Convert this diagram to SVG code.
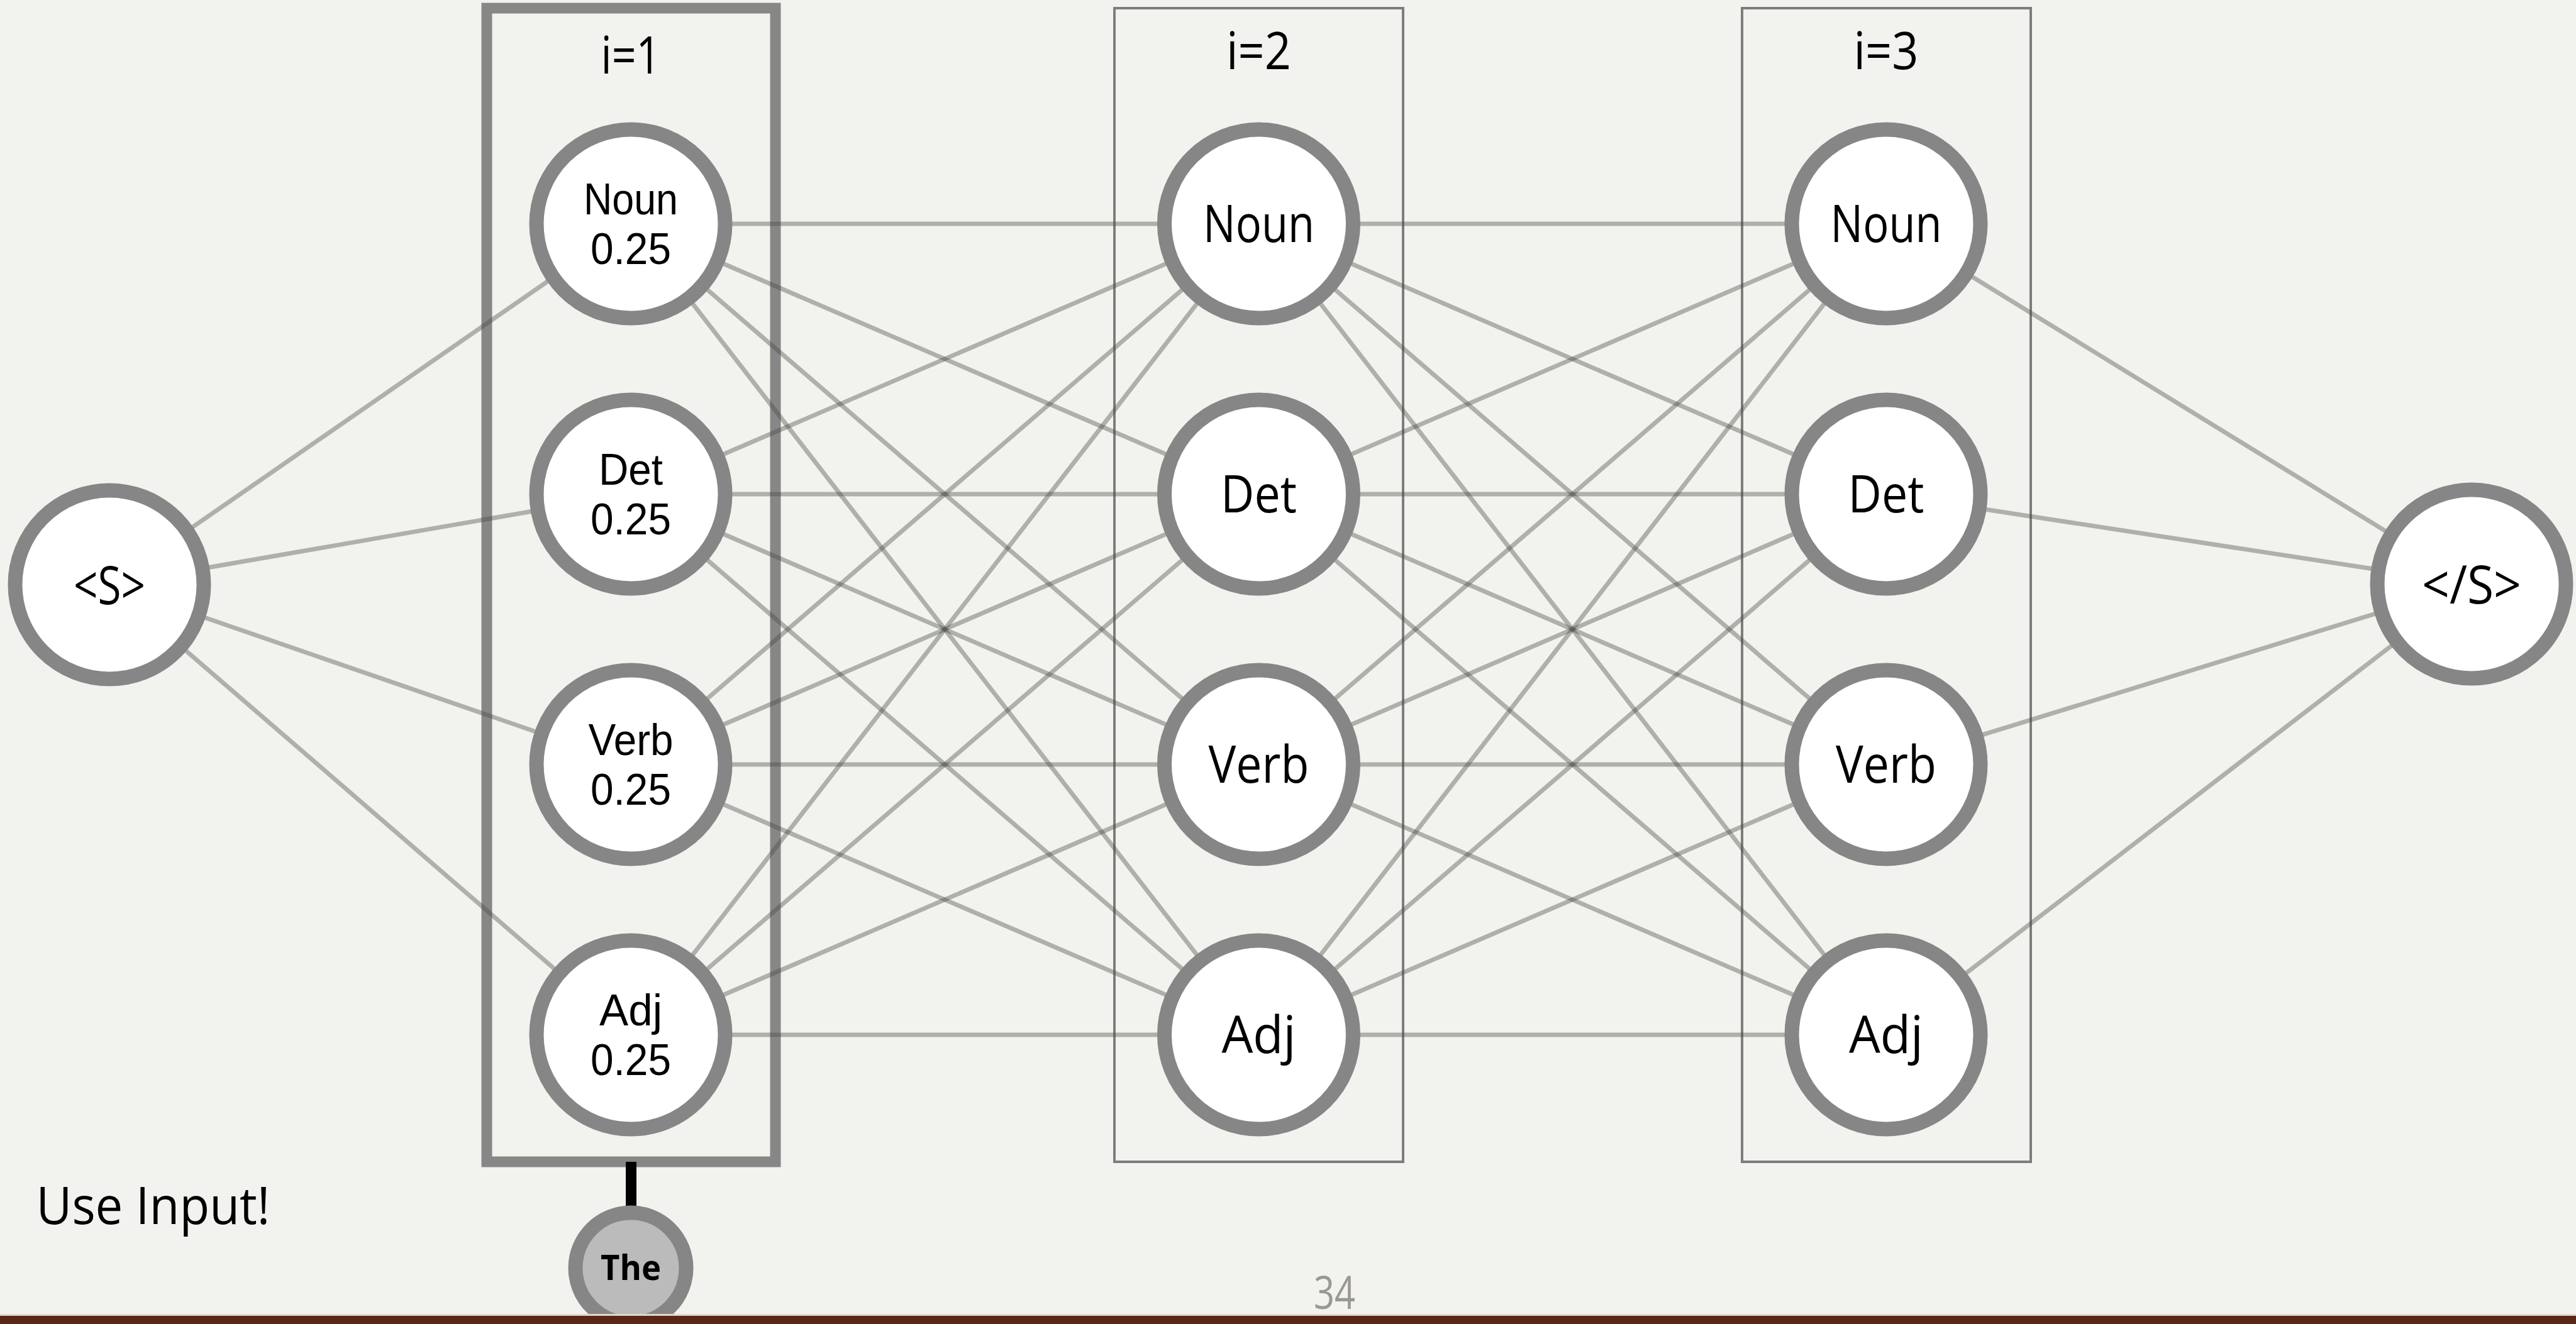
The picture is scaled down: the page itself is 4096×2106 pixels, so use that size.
<svg xmlns="http://www.w3.org/2000/svg" width="4096" height="2106" viewBox="0 0 4096 2106">
<style>
.bg{fill:#f2f3ef}
.box1{fill:none;stroke:#878787;stroke-width:17}
.box{fill:none;stroke:#7d7d7d;stroke-width:4}
.edge{stroke:#484c44;stroke-opacity:0.4;stroke-width:7}
.node{fill:#ffffff;stroke:#868686;stroke-width:23}
.lbl{font-family:"Open Sans","Liberation Sans",sans-serif;fill:#000;text-anchor:middle}
.l1{font-family:"Liberation Sans","Open Sans",sans-serif;font-size:70px}
.l2{font-size:82px}
.hdr{font-size:83px}
</style>
<rect class="bg" x="0" y="0" width="4096" height="2106"/>
<g id="boxes">
<rect id="box-i1" class="box1" x="774" y="13" width="459" height="1835"/>
<rect id="box-i2" class="box" x="1772" y="13" width="459" height="1835"/>
<rect id="box-i3" class="box" x="2770" y="13" width="459" height="1835"/>
<text class="lbl hdr" x="1003" y="117" textLength="95" lengthAdjust="spacingAndGlyphs">i=1</text>
<text class="lbl hdr" x="2001.5" y="110" textLength="103" lengthAdjust="spacingAndGlyphs">i=2</text>
<text class="lbl hdr" x="2999" y="110" textLength="103" lengthAdjust="spacingAndGlyphs">i=3</text>
</g>
<g id="connectors">
<line class="edge" x1="174" y1="930" x2="1003" y2="356"/>
<line class="edge" x1="174" y1="930" x2="1003" y2="786"/>
<line class="edge" x1="174" y1="930" x2="1003" y2="1216"/>
<line class="edge" x1="174" y1="930" x2="1003" y2="1646"/>
<line class="edge" x1="1003" y1="356" x2="2001.5" y2="356"/>
<line class="edge" x1="1003" y1="356" x2="2001.5" y2="786"/>
<line class="edge" x1="1003" y1="356" x2="2001.5" y2="1216"/>
<line class="edge" x1="1003" y1="356" x2="2001.5" y2="1646"/>
<line class="edge" x1="1003" y1="786" x2="2001.5" y2="356"/>
<line class="edge" x1="1003" y1="786" x2="2001.5" y2="786"/>
<line class="edge" x1="1003" y1="786" x2="2001.5" y2="1216"/>
<line class="edge" x1="1003" y1="786" x2="2001.5" y2="1646"/>
<line class="edge" x1="1003" y1="1216" x2="2001.5" y2="356"/>
<line class="edge" x1="1003" y1="1216" x2="2001.5" y2="786"/>
<line class="edge" x1="1003" y1="1216" x2="2001.5" y2="1216"/>
<line class="edge" x1="1003" y1="1216" x2="2001.5" y2="1646"/>
<line class="edge" x1="1003" y1="1646" x2="2001.5" y2="356"/>
<line class="edge" x1="1003" y1="1646" x2="2001.5" y2="786"/>
<line class="edge" x1="1003" y1="1646" x2="2001.5" y2="1216"/>
<line class="edge" x1="1003" y1="1646" x2="2001.5" y2="1646"/>
<line class="edge" x1="2001.5" y1="356" x2="2999" y2="356"/>
<line class="edge" x1="2001.5" y1="356" x2="2999" y2="786"/>
<line class="edge" x1="2001.5" y1="356" x2="2999" y2="1216"/>
<line class="edge" x1="2001.5" y1="356" x2="2999" y2="1646"/>
<line class="edge" x1="2001.5" y1="786" x2="2999" y2="356"/>
<line class="edge" x1="2001.5" y1="786" x2="2999" y2="786"/>
<line class="edge" x1="2001.5" y1="786" x2="2999" y2="1216"/>
<line class="edge" x1="2001.5" y1="786" x2="2999" y2="1646"/>
<line class="edge" x1="2001.5" y1="1216" x2="2999" y2="356"/>
<line class="edge" x1="2001.5" y1="1216" x2="2999" y2="786"/>
<line class="edge" x1="2001.5" y1="1216" x2="2999" y2="1216"/>
<line class="edge" x1="2001.5" y1="1216" x2="2999" y2="1646"/>
<line class="edge" x1="2001.5" y1="1646" x2="2999" y2="356"/>
<line class="edge" x1="2001.5" y1="1646" x2="2999" y2="786"/>
<line class="edge" x1="2001.5" y1="1646" x2="2999" y2="1216"/>
<line class="edge" x1="2001.5" y1="1646" x2="2999" y2="1646"/>
<line class="edge" x1="2999" y1="356" x2="3930" y2="929"/>
<line class="edge" x1="2999" y1="786" x2="3930" y2="929"/>
<line class="edge" x1="2999" y1="1216" x2="3930" y2="929"/>
<line class="edge" x1="2999" y1="1646" x2="3930" y2="929"/>
<line x1="1003.5" y1="1848" x2="1003.5" y2="1940" stroke="#000" stroke-width="17"/>
</g>
<g id="node-start"><circle class="node" cx="174" cy="930" r="150"/><text class="lbl" x="174" y="961" font-size="85" textLength="114" lengthAdjust="spacingAndGlyphs">&lt;S&gt;</text></g>
<g id="node-end"><circle class="node" cx="3930" cy="929" r="150"/><text class="lbl" x="3930" y="960" font-size="85" textLength="158" lengthAdjust="spacingAndGlyphs">&lt;/S&gt;</text></g>
<g id="node-1-noun"><circle class="node" cx="1003" cy="356" r="150"/><text class="lbl l1" x="1003" y="341" textLength="150" lengthAdjust="spacingAndGlyphs">Noun</text><text class="lbl l1" x="1003" y="420" textLength="128" lengthAdjust="spacingAndGlyphs">0.25</text></g>
<g id="node-1-det"><circle class="node" cx="1003" cy="786" r="150"/><text class="lbl l1" x="1003" y="771" textLength="102" lengthAdjust="spacingAndGlyphs">Det</text><text class="lbl l1" x="1003" y="850" textLength="128" lengthAdjust="spacingAndGlyphs">0.25</text></g>
<g id="node-1-verb"><circle class="node" cx="1003" cy="1216" r="150"/><text class="lbl l1" x="1003" y="1201" textLength="135" lengthAdjust="spacingAndGlyphs">Verb</text><text class="lbl l1" x="1003" y="1280" textLength="128" lengthAdjust="spacingAndGlyphs">0.25</text></g>
<g id="node-1-adj"><circle class="node" cx="1003" cy="1646" r="150"/><text class="lbl l1" x="1003" y="1631" textLength="100" lengthAdjust="spacingAndGlyphs">Adj</text><text class="lbl l1" x="1003" y="1710" textLength="128" lengthAdjust="spacingAndGlyphs">0.25</text></g>
<g id="node-2-noun"><circle class="node" cx="2001.5" cy="356" r="150"/><text class="lbl l2" x="2001.5" y="385" textLength="177" lengthAdjust="spacingAndGlyphs">Noun</text></g>
<g id="node-2-det"><circle class="node" cx="2001.5" cy="786" r="150"/><text class="lbl l2" x="2001.5" y="815" textLength="121" lengthAdjust="spacingAndGlyphs">Det</text></g>
<g id="node-2-verb"><circle class="node" cx="2001.5" cy="1216" r="150"/><text class="lbl l2" x="2001.5" y="1245" textLength="160" lengthAdjust="spacingAndGlyphs">Verb</text></g>
<g id="node-2-adj"><circle class="node" cx="2001.5" cy="1646" r="150"/><text class="lbl l2" x="2001.5" y="1675" textLength="118" lengthAdjust="spacingAndGlyphs">Adj</text></g>
<g id="node-3-noun"><circle class="node" cx="2999" cy="356" r="150"/><text class="lbl l2" x="2999" y="385" textLength="177" lengthAdjust="spacingAndGlyphs">Noun</text></g>
<g id="node-3-det"><circle class="node" cx="2999" cy="786" r="150"/><text class="lbl l2" x="2999" y="815" textLength="121" lengthAdjust="spacingAndGlyphs">Det</text></g>
<g id="node-3-verb"><circle class="node" cx="2999" cy="1216" r="150"/><text class="lbl l2" x="2999" y="1245" textLength="160" lengthAdjust="spacingAndGlyphs">Verb</text></g>
<g id="node-3-adj"><circle class="node" cx="2999" cy="1646" r="150"/><text class="lbl l2" x="2999" y="1675" textLength="118" lengthAdjust="spacingAndGlyphs">Adj</text></g>
<g id="node-the"><circle cx="1003" cy="2017" r="88" fill="#bbbbbb" stroke="#868686" stroke-width="23"/><text class="lbl" x="1003" y="2036" font-size="56" font-weight="bold" textLength="96" lengthAdjust="spacingAndGlyphs">The</text></g>
<text x="57.5" y="1946.5" font-family="Open Sans, Liberation Sans, sans-serif" font-size="83" fill="#000" textLength="372" lengthAdjust="spacingAndGlyphs">Use Input!</text>
<text class="lbl" x="2122" y="2082" font-size="74" style="fill:#9b9791" textLength="66" lengthAdjust="spacingAndGlyphs">34</text>
<rect x="0" y="2090" width="4096" height="3" fill="#e2d8c8"/>
<rect x="0" y="2093" width="4096" height="13" fill="#5a2616"/>
</svg>
